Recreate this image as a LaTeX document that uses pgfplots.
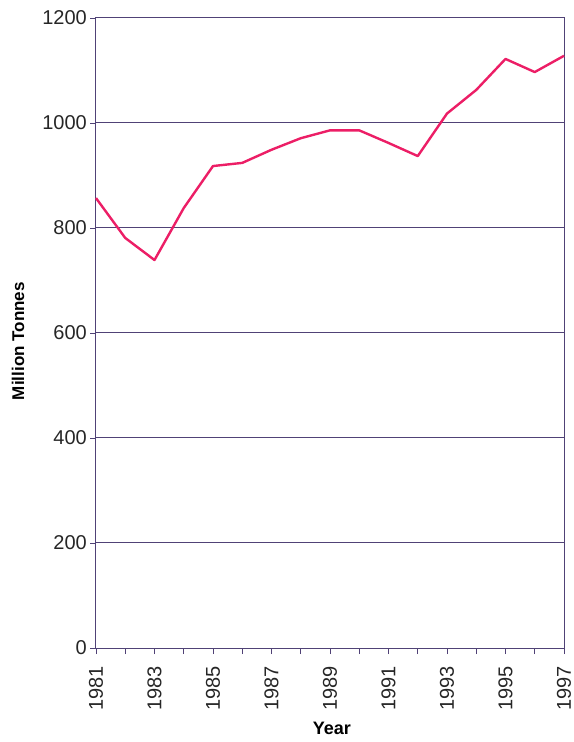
\documentclass[border=0pt]{standalone}
\usepackage{fontspec}
\setmainfont{Liberation Sans}
\usepackage{pgfplots}
\pgfplotsset{compat=1.18}
\definecolor{gridc}{RGB}{80,66,118}
\definecolor{linec}{RGB}{236,30,102}
\begin{document}
\begin{tikzpicture}
\begin{axis}[
  scale only axis,
  width=468bp, height=630bp,
  xmin=1981, xmax=1997,
  ymin=0, ymax=1200,
  ytick={0,200,...,1200},
  xtick={1981,...,1997},
  xticklabels={1981,,1983,,1985,,1987,,1989,,1991,,1993,,1995,,1997},
  xtick pos=bottom, ytick pos=left,
  /pgf/number format/assume math mode=true,
  /pgf/number format/1000 sep={},
  tick align=outside,
  major tick length=6bp,
  tick style={gridc, line width=0.9bp},
  axis line style={gridc, line width=1bp},
  ymajorgrids,
  grid style={gridc, line width=1bp},
  ticklabel style={font=\fontsize{20bp}{24bp}\selectfont, text=black!85},
  xticklabel style={rotate=90, anchor=east, inner xsep=12bp, inner ysep=2bp},
  yticklabel style={inner sep=3bp},
  xlabel={Year},
  ylabel={Million Tonnes},
  xlabel style={font=\fontsize{18bp}{22bp}\selectfont\bfseries, at={(axis description cs:0.504,-0.127)}, anchor=center},
  ylabel style={font=\fontsize{17bp}{21bp}\selectfont\bfseries, at={(axis description cs:-0.1667,0.487)}, anchor=center, rotate=0},
  clip=false,
]
\addplot[linec, line width=2.4bp, line join=round] coordinates {
(1981,857) (1982,781) (1983,739) (1984,838) (1985,918) (1986,924)
(1987,949) (1988,971) (1989,986) (1990,986) (1991,962) (1992,937)
(1993,1018) (1994,1063) (1995,1122) (1996,1097) (1997,1128)
};
\end{axis}
\pgfresetboundingbox
\path[use as bounding box] ([xshift=-96bp,yshift=-94bp]current axis.south west) rectangle ([xshift=10bp,yshift=18bp]current axis.north east);
\end{tikzpicture}
\end{document}
